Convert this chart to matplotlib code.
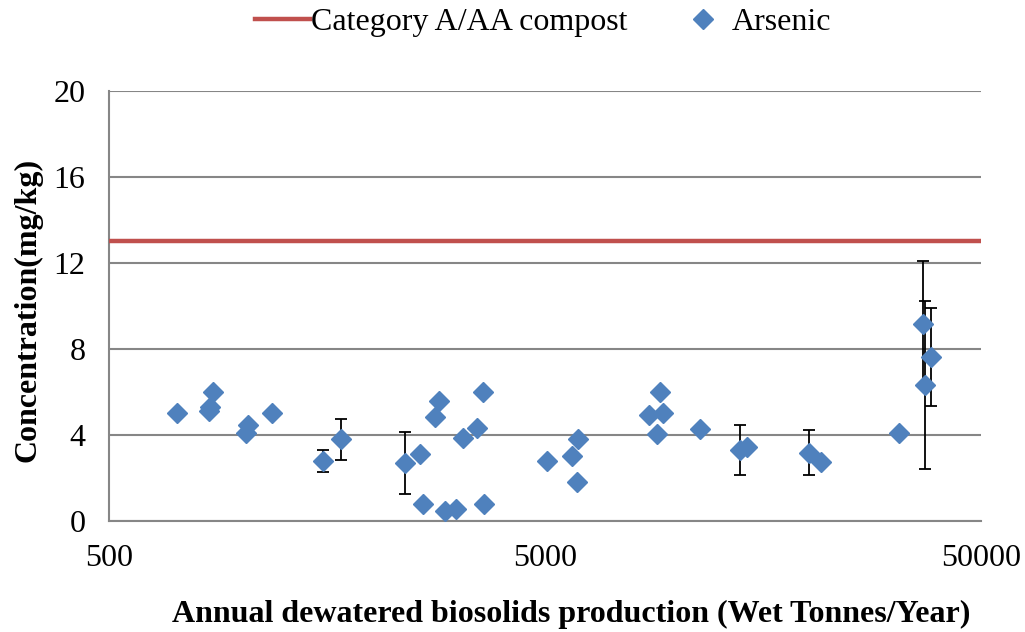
import numpy as np
import matplotlib
matplotlib.use("Agg")
import matplotlib.pyplot as plt

plt.rcParams['font.family'] = ['Liberation Serif', 'DejaVu Serif']

# データ
production = [718, 864, 853, 846, 1040, 1030, 1183, 1552, 1702, 2384,
              2590, 2620, 2944, 2858, 2800, 3122, 3245, 3500, 3606, 3620,
              5061, 5760, 5965, 5915, 9190, 8640, 9350, 9056, 11350, 14030,
              14545, 20160, 21460, 36900, 37180, 38380, 32450]
arsenic = [5.0, 6.0, 5.3, 5.1, 4.45, 4.06, 5.03, 2.77, 3.78, 2.69,
           3.09, 0.78, 0.47, 5.55, 4.81, 0.55, 3.83, 4.3, 6.0, 0.78,
           2.78, 3.0, 3.78, 1.8, 6.0, 4.92, 5.03, 4.03, 4.25, 3.31,
           3.41, 3.16, 2.73, 9.14, 6.33, 7.63, 4.09]
arsenic_err = [0, 0, 0, 0, 0, 0, 0, 0.5, 0.95, 1.45,
               0, 0, 0, 0, 0, 0, 0, 0, 0, 0,
               0, 0, 0, 0, 0, 0, 0, 0, 0, 1.16,
               0, 1.04, 0, 2.94, 3.9, 2.27, 0]
compost_limit = 13.0
x_ticks = [500, 5000, 50000]
y_ticks = [0, 4, 8, 12, 16, 20]

fig = plt.figure(figsize=(10.25, 6.32), dpi=100)
ax = fig.add_axes([0.1063, 0.176, 0.8507, 0.6805])

ax.set_xscale('log')
ax.set_xlim(500, 50000)
ax.set_ylim(0, 20)

# 基準線
ax.axhline(compost_limit, color='#C0504D', linewidth=3.2, label='Category A/AA compost', zorder=3)

# 誤差棒
x_arr = np.array(production)
y_arr = np.array(arsenic)
e_arr = np.array(arsenic_err)
has_err = e_arr > 0
ax.errorbar(x_arr[has_err], y_arr[has_err], yerr=e_arr[has_err], fmt='none',
            ecolor='black', elinewidth=1.3, capsize=4.3, capthick=1.3, zorder=4)
ax.plot(x_arr, y_arr, linestyle='none', marker='D', markersize=10,
        color='#4F81BD', markeredgecolor='#4F81BD', label='Arsenic', zorder=5)

# 軸設定
ax.set_xticks(x_ticks)
ax.set_xticklabels([str(v) for v in x_ticks])
ax.xaxis.set_minor_locator(matplotlib.ticker.NullLocator())
ax.set_yticks(y_ticks)
ax.tick_params(axis='both', length=0, labelsize=23, pad=17)
ax.grid(axis='y', color='#868686', linewidth=1.5)
for side in ['top', 'right']:
    ax.spines[side].set_visible(False)
for side in ['left', 'bottom']:
    ax.spines[side].set_color('#868686')
    ax.spines[side].set_linewidth(1.5)

ax.set_xlabel('Annual dewatered biosolids production (Wet Tonnes/Year)',
              fontsize=23, fontweight='bold')
ax.xaxis.set_label_coords(0.53, -0.183)
ax.set_ylabel('Concentration(mg/kg)', fontsize=23, fontweight='bold')
ax.yaxis.set_label_coords(-0.076, 0.49)

fig.legend(*ax.get_legend_handles_labels(), loc='center', bbox_to_anchor=(0.53, 0.965),
           ncol=2, frameon=False, fontsize=23, handlelength=1.7, handletextpad=0.05,
           columnspacing=1.5, borderaxespad=0)

fig.savefig('out.png', dpi=100)
